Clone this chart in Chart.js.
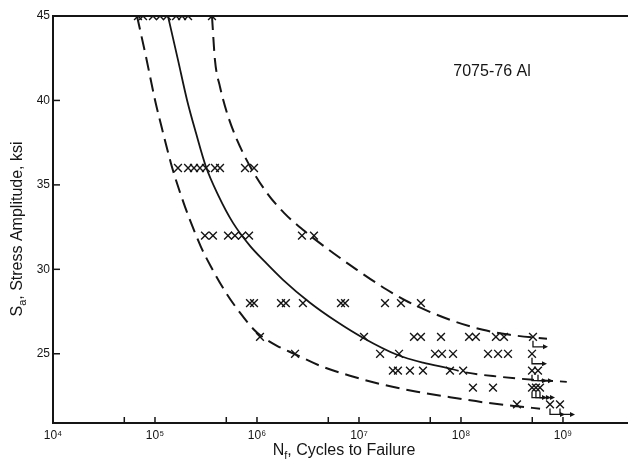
<!DOCTYPE html>
<html><head><meta charset="utf-8">
<script src="https://cdn.jsdelivr.net/npm/chart.js@4.4.0/dist/chart.umd.min.js"></script>
<style>html,body{margin:0;padding:0;background:#fff}#wrap{width:628px;height:460px;position:relative}</style>
</head><body><div id="wrap"><canvas id="c"></canvas></div>
<script>
// ---- axis ticks ----
const xTickValues = [1e4, 1e5, 1e6, 1e7, 1e8, 1e9];
const xTickLabels = ['10\u2074', '10\u2075', '10\u2076', '10\u2077', '10\u2078', '10\u2079'];
const xMinorTicks = [5e4, 5e5, 5e6, 5e7, 5e8];
const yTickValues = [25, 30, 35, 40, 45];

// ---- test data (cycles to failure at each stress amplitude, ksi) ----
const s45N = [6.81e4, 7.63e4, 9.55e4, 1.12e5, 1.31e5, 1.61e5, 1.84e5, 2.11e5, 3.62e5];
const s36N = [1.68e5, 2.11e5, 2.41e5, 2.76e5, 3.16e5, 3.87e5, 4.34e5, 7.63e5, 9.35e5];
const s32N = [3.09e5, 3.7e5, 5.2e5, 6.08e5, 7.13e5, 8.36e5, 2.76e6, 3.62e6];
const s28N = [8.54e5, 9.35e5, 1.72e6, 1.92e6, 2.82e6, 6.66e6, 7.3e6, 1.8e7, 2.58e7, 4.05e7];
const s26N = [1.07e6, 1.12e7, 3.46e7, 4.05e7, 6.37e7, 1.2e8, 1.4e8, 2.2e8, 2.64e8, 5.08e8];
const s25N = [2.36e6, 1.61e7, 2.47e7, 5.56e7, 6.51e7, 8.36e7, 1.84e8, 2.31e8, 2.89e8, 4.97e8];
const s24N = [2.15e7, 2.41e7, 3.16e7, 4.24e7, 7.8e7, 1.05e8, 4.97e8, 5.69e8];
const s23N = [1.31e8, 2.06e8, 4.97e8, 5.43e8, 5.95e8];
const s22N = [3.54e8, 7.46e8, 9.35e8];
const stressLevels = [45, 36, 32, 28, 26, 25, 24, 23, 22];
const cyclesByLevel = [s45N, s36N, s32N, s28N, s26N, s25N, s24N, s23N, s22N];

// run-outs (specimens that did not fail)
const runoutN = [5.08e8, 4.97e8, 4.97e8, 5.69e8, 4.97e8, 5.43e8, 5.95e8, 7.46e8, 9.35e8];
const runoutS = [26, 25, 24, 24, 23, 23, 23, 22, 22];

// ---- fitted curves ----
const meanN = [1.34e5, 1.68e5, 2.06e5, 2.52e5, 3.16e5, 4.15e5, 5.82e5, 8.54e5, 1.2e6, 1.8e6, 3.31e6, 6.08e6, 1.09e7, 2.36e7, 4.24e7, 7.29e7];
const meanS = [45, 42.4, 40.03, 38.08, 36.07, 34.41, 32.75, 31.39, 30.44, 29.38, 28.02, 26.89, 25.95, 24.94, 24.47, 24.17];
const meanExtN = [7.29e7, 1.15e8, 2.41e8, 5.08e8, 1.09e9];
const meanExtS = [24.17, 23.88, 23.64, 23.46, 23.34];
const upperN = [3.62e5, 3.87e5, 4.34e5, 5.08e5, 6.37e5, 8.73e5, 1.25e6, 1.84e6, 2.82e6, 5.08e6, 9.55e6, 1.88e7, 3.02e7, 7.8e7, 1.64e8, 3.02e8, 6.97e8];
const upperS = [45, 42.4, 40.8, 39.26, 37.66, 36.0, 34.53, 33.34, 32.34, 31.15, 29.97, 28.79, 28.08, 27.01, 26.42, 26.12, 25.89];
const lowerN = [6.66e4, 8.17e4, 1.0e5, 1.2e5, 1.43e5, 1.57e5, 1.97e5, 2.47e5, 2.82e5, 3.54e5, 4.97e5, 6.81e5, 9.35e5, 1.09e6, 1.57e6, 2.31e6, 4.15e6, 8.16e6, 1.72e7, 3.7e7, 7.8e7, 1.64e8, 3.54e8, 5.96e8];
const lowerS = [45, 42.57, 40.03, 38.08, 36.3, 35.47, 33.7, 32.16, 31.33, 30.15, 28.61, 27.43, 26.42, 26.07, 25.47, 25.0, 24.29, 23.7, 23.17, 22.75, 22.43, 22.13, 21.89, 21.75];

const xMin = 1e4, xMax = 4.34e9, yMin = 20.9, yMax = 45;
const INK = '#151515';
const FONT = '"Liberation Sans", Arial, sans-serif';

const pts = [];
stressLevels.forEach((s, i) => cyclesByLevel[i].forEach(n => pts.push({x: n, y: s})));
const toXY = (ns, ss) => ns.map((n, i) => ({x: n, y: ss[i]}));

const lineDs = (data, dash, w) => ({
  type: 'line', data, showLine: true, borderColor: INK, borderWidth: w,
  borderDash: dash, pointRadius: 0, fill: false, cubicInterpolationMode: 'monotone'
});

const decor = {
  id: 'decor',
  afterDraw(chart) {
    const ctx = chart.ctx, a = chart.chartArea;
    const xs = chart.scales.x, ys = chart.scales.y;
    ctx.save();
    ctx.strokeStyle = INK; ctx.fillStyle = INK;
    // top frame line
    ctx.lineWidth = 2;
    ctx.beginPath(); ctx.moveTo(a.left, a.top); ctx.lineTo(a.right, a.top); ctx.stroke();
    // inner ticks
    ctx.lineWidth = 1.5;
    yTickValues.forEach(v => {
      const y = ys.getPixelForValue(v);
      ctx.beginPath(); ctx.moveTo(a.left, y); ctx.lineTo(a.left + 7, y); ctx.stroke();
    });
    xTickValues.concat(xMinorTicks).forEach(v => {
      const x = xs.getPixelForValue(v);
      ctx.beginPath(); ctx.moveTo(x, a.bottom); ctx.lineTo(x, a.bottom - 6); ctx.stroke();
    });
    // run-out hooks
    ctx.lineWidth = 1.3;
    runoutN.forEach((n, i) => {
      const x = xs.getPixelForValue(n), y = ys.getPixelForValue(runoutS[i]);
      ctx.beginPath();
      ctx.moveTo(x, y + 4); ctx.lineTo(x, y + 10); ctx.lineTo(x + 12, y + 10);
      ctx.stroke();
      ctx.beginPath();
      ctx.moveTo(x + 15, y + 10); ctx.lineTo(x + 10, y + 7.5); ctx.lineTo(x + 10, y + 12.5); ctx.closePath(); ctx.fill();
    });
    // annotation
    ctx.font = '16px ' + FONT;
    ctx.textAlign = 'center'; ctx.textBaseline = 'middle';
    ctx.fillText('7075-76 Al', 492, 72);
    // axis titles with subscripts
    const big = '16px ' + FONT, small = '11px ' + FONT;
    const drawSub = (main, sub, rest, cx, cy) => {
      ctx.font = big; const w1 = ctx.measureText(main).width, w3 = ctx.measureText(rest).width;
      ctx.font = small; const w2 = ctx.measureText(sub).width;
      let x = cx - (w1 + w2 + w3) / 2;
      ctx.textAlign = 'left'; ctx.textBaseline = 'middle';
      ctx.font = big; ctx.fillText(main, x, cy); x += w1;
      ctx.font = small; ctx.fillText(sub, x, cy + 5); x += w2;
      ctx.font = big; ctx.fillText(rest, x, cy);
    };
    drawSub('N', 'f', ', Cycles to Failure', 344, 451);
    ctx.translate(18, 229); ctx.rotate(-Math.PI / 2);
    drawSub('S', 'a', ', Stress Amplitude, ksi', 0, 0);
    ctx.restore();
  }
};

new Chart(document.getElementById('c'), {
  type: 'scatter',
  data: {
    datasets: [
      lineDs(toXY(meanN, meanS), [], 1.8),
      lineDs(toXY(meanExtN, meanExtS), [12, 7], 1.8),
      lineDs(toXY(upperN, upperS), [14, 7], 2),
      lineDs(toXY(lowerN, lowerS), [14, 7], 2),
      { data: pts, pointStyle: 'crossRot', pointRadius: 5.5, borderColor: INK, borderWidth: 1.4, backgroundColor: INK }
    ]
  },
  options: {
    responsive: true, maintainAspectRatio: false, animation: false,
    layout: { autoPadding: false, padding: { top: 16, right: 0, left: 0, bottom: 0 } },
    plugins: { legend: { display: false }, tooltip: { enabled: false } },
    scales: {
      x: {
        type: 'logarithmic', min: xMin, max: xMax,
        afterBuildTicks: s => { s.ticks = xTickValues.map(v => ({ value: v })); },
        afterFit: s => { s.height = 37; s.paddingLeft = 0; s.paddingRight = 0; },
        ticks: { autoSkip: false, maxRotation: 0, padding: 5, color: INK,
          font: { family: FONT, size: 12 },
          callback: (v, i) => xTickLabels[i] },
        grid: { display: true, drawOnChartArea: false, drawTicks: false },
        border: { display: true, color: INK, width: 2 }
      },
      y: {
        type: 'linear', min: yMin, max: yMax,
        afterBuildTicks: s => { s.ticks = yTickValues.map(v => ({ value: v })); },
        afterFit: s => { s.width = 53; s.paddingTop = 0; s.paddingBottom = 0; },
        ticks: { padding: 3, color: INK, font: { family: FONT, size: 12 } },
        grid: { display: true, drawOnChartArea: false, drawTicks: false },
        border: { display: true, color: INK, width: 2 }
      }
    }
  },
  plugins: [decor]
});
</script>
</body></html>
